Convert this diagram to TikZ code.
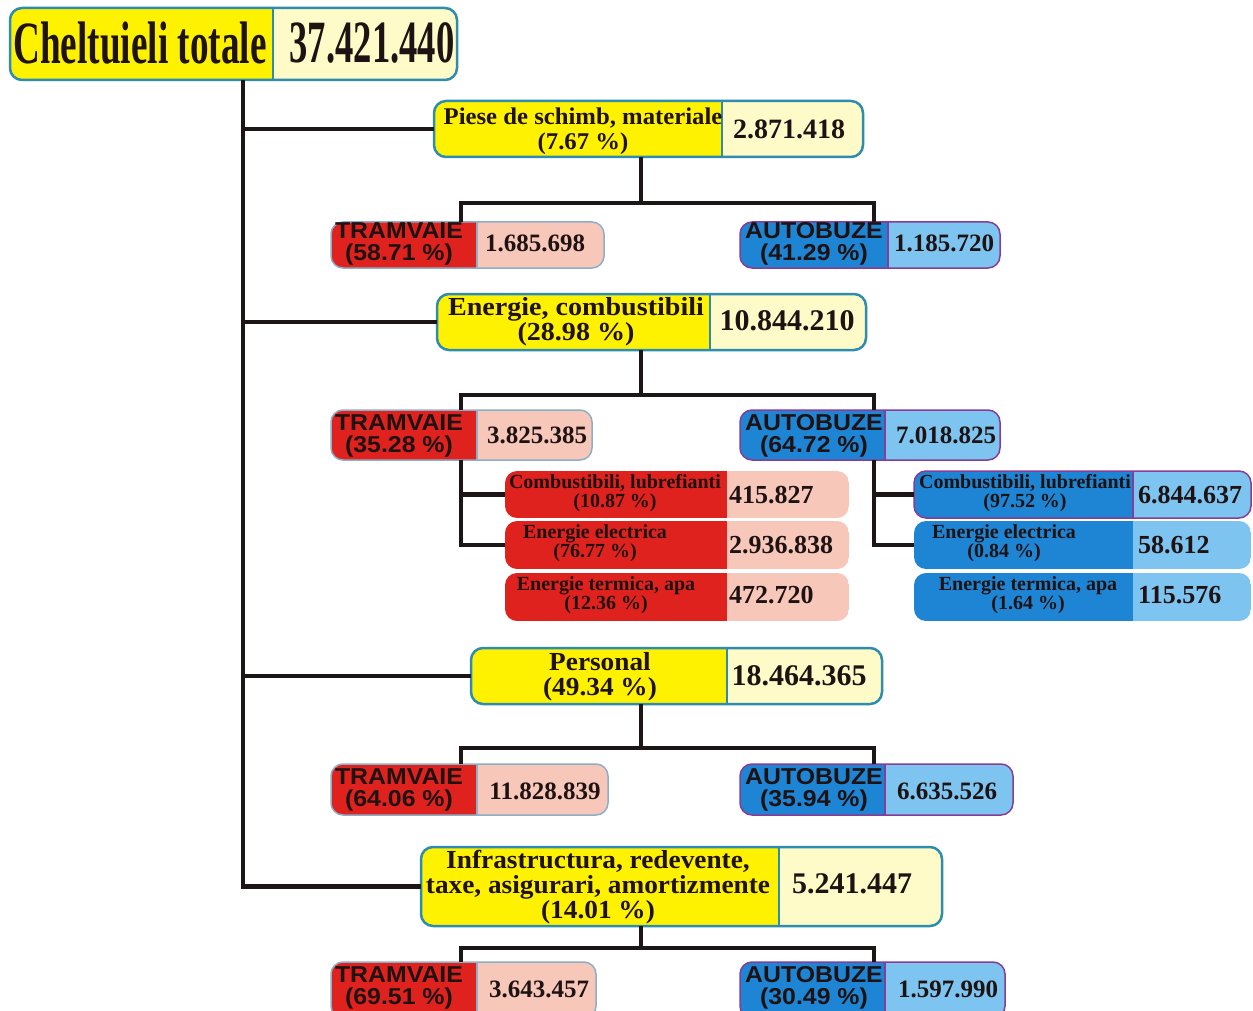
\documentclass[tikz,border=0pt]{standalone}
\usepackage{fontspec}
\setmainfont{Liberation Serif}
\newfontfamily\arialb{Liberation Sans}
\definecolor{ylw}{RGB}{255,242,0}
\definecolor{lylw}{RGB}{255,251,200}
\definecolor{tealb}{RGB}{45,140,175}
\definecolor{tred}{RGB}{224,34,30}
\definecolor{tpink}{RGB}{247,200,186}
\definecolor{bblue}{RGB}{30,132,212}
\definecolor{lblue}{RGB}{125,196,240}
\definecolor{purp}{RGB}{135,60,150}
\definecolor{tramb}{RGB}{140,175,200}
\definecolor{txt}{RGB}{30,18,18}
\definecolor{linec}{RGB}{28,22,22}
\tikzset{
  frame/.style={rounded corners=12, inner sep=0, outer sep=0},
  yb/.style={draw=tealb, line width=2.5},
  tb/.style={draw=tramb, line width=1.5},
  pb/.style={draw=purp, line width=1.5},
  nb/.style={draw=none},
  conn/.style={draw=linec, line width=4.5},
  ttl/.style={text=txt, inner sep=0, font=\fontsize{60}{60}\selectfont\bfseries},
  cat/.style={text=txt, align=center, inner sep=0, font=\fontsize{#1}{25}\selectfont\bfseries},
  catv/.style={text=txt, inner sep=0, font=\fontsize{#1}{#1}\selectfont\bfseries},
  ta/.style={text=txt, align=center, inner sep=0, xscale=1.08, font=\arialb\bfseries\fontsize{23}{22}\selectfont},
  tav/.style={text=txt, inner sep=0, font=\fontsize{25}{25}\selectfont\bfseries},
  sub/.style={text=txt, align=center, inner sep=0, font=\fontsize{20}{19.5}\selectfont\bfseries},
  subv/.style={text=txt, inner sep=0, anchor=west, font=\fontsize{26}{26}\selectfont\bfseries},
}
\newcommand\splitbox[9]{%
  \begin{scope}
    \clip[rounded corners=12] (#2,#3) rectangle (#5,#6);
    \fill[#7] (#2,#3) rectangle (#4,#6);
    \fill[#8] (#4,#3) rectangle (#5,#6);
  \end{scope}
  \draw[#9] (#4,#3) -- (#4,#6);
  \node[frame, #9, minimum width={#5-#2}, minimum height={#6-#3}] (#1) at ({(#2+#5)/2},{(#3+#6)/2}) {};
}
\begin{document}
\begin{tikzpicture}[x=1pt, y=-1pt]
\useasboundingbox (0,0) rectangle (1253,1011);
\clip (0,0) rectangle (1253,1011);
\fill[white] (0,0) rectangle (1253,1011);

% title
\splitbox{title}{10}{8}{273}{457}{80}{ylw}{lylw}{yb}
\node[ttl, xscale=0.62] (titleL) at (140,43) {Cheltuieli totale};
\node[ttl, xscale=0.61] (titleV) at (372,43) {37.421.440};

% piese
\splitbox{piese}{434}{101}{722}{863}{157}{ylw}{lylw}{yb}
\node[cat=24, xscale=1.03] (pieseL) at (583,131) {Piese de schimb, materiale\\(7.67 \%)};
\node[catv=28] (pieseV) at (789,129) {2.871.418};

\splitbox{tram1}{331}{222}{477}{604}{268}{tred}{tpink}{tb}
\node[ta] (tram1L) at (399,244) {TRAMVAIE\\(58.71 \%)};
\node[tav] (tram1V) at (535,243) {1.685.698};
\splitbox{auto1}{740}{222}{888}{1000}{268}{bblue}{lblue}{pb}
\node[ta] (auto1L) at (814,244) {AUTOBUZE\\(41.29 \%)};
\node[tav] (auto1V) at (944,243) {1.185.720};

% energie
\splitbox{energ}{437}{294}{710}{866}{350}{ylw}{lylw}{yb}
\node[cat=26, xscale=1.08] (energL) at (576,322) {Energie, combustibili\\(28.98 \%)};
\node[catv=30] (energV) at (787,321) {10.844.210};

\splitbox{tram2}{331}{410}{477}{592}{460}{tred}{tpink}{tb}
\node[ta] (tram2L) at (399,436) {TRAMVAIE\\(35.28 \%)};
\node[tav] (tram2V) at (537,435) {3.825.385};
\splitbox{auto2}{740}{410}{885}{1000}{460}{bblue}{lblue}{pb}
\node[ta] (auto2L) at (814,436) {AUTOBUZE\\(64.72 \%)};
\node[tav] (auto2V) at (946,435) {7.018.825};

\splitbox{tc}{505}{471}{727}{849}{518}{tred}{tpink}{nb}
\node[sub] (tcL) at (615,493) {Combustibili, lubrefianti\\(10.87 \%)};
\node[subv] (tcV) at (729,495) {415.827};
\splitbox{tee}{505}{521}{727}{849}{569}{tred}{tpink}{nb}
\node[sub] (teeL) at (595,543) {Energie electrica\\(76.77 \%)};
\node[subv] (teeV) at (729,545) {2.936.838};
\splitbox{tt}{505}{573}{727}{849}{621}{tred}{tpink}{nb}
\node[sub] (ttL) at (606,595) {Energie termica, apa\\(12.36 \%)};
\node[subv] (ttV) at (729,595) {472.720};

\splitbox{bc}{914}{471}{1133}{1251}{518}{bblue}{lblue}{pb}
\node[sub] (bcL) at (1025,493) {Combustibili, lubrefianti\\(97.52 \%)};
\node[subv] (bcV) at (1138,495) {6.844.637};
\splitbox{be}{914}{521}{1133}{1251}{569}{bblue}{lblue}{nb}
\node[sub] (beL) at (1004,543) {Energie electrica\\(0.84 \%)};
\node[subv] (beV) at (1138,545) {58.612};
\splitbox{bt}{914}{573}{1133}{1251}{621}{bblue}{lblue}{nb}
\node[sub] (btL) at (1028,595) {Energie termica, apa\\(1.64 \%)};
\node[subv] (btV) at (1138,595) {115.576};

% personal
\splitbox{pers}{471}{648}{727}{882}{704}{ylw}{lylw}{yb}
\node[cat=26, xscale=1.05] (persL) at (600,677) {Personal\\(49.34 \%)};
\node[catv=30] (persV) at (799,676) {18.464.365};

\splitbox{tram3}{331}{764}{477}{608}{815}{tred}{tpink}{tb}
\node[ta] (tram3L) at (399,790) {TRAMVAIE\\(64.06 \%)};
\node[tav] (tram3V) at (545,791) {11.828.839};
\splitbox{auto3}{740}{764}{885}{1013}{815}{bblue}{lblue}{pb}
\node[ta] (auto3L) at (814,790) {AUTOBUZE\\(35.94 \%)};
\node[tav] (auto3V) at (947,791) {6.635.526};

% infra
\splitbox{infra}{421}{847}{779}{942}{926}{ylw}{lylw}{yb}
\node[cat=26, xscale=1.05] (infraL) at (598,887) {Infrastructura, redevente,\\taxe, asigurari, amortizmente\\(14.01 \%)};
\node[catv=30] (infraV) at (852,884) {5.241.447};

\splitbox{tram4}{331}{962}{477}{596}{1018}{tred}{tpink}{tb}
\node[ta] (tram4L) at (399,988) {TRAMVAIE\\(69.51 \%)};
\node[tav] (tram4V) at (539,989) {3.643.457};
\splitbox{auto4}{740}{962}{885}{1005}{1018}{bblue}{lblue}{pb}
\node[ta] (auto4L) at (814,988) {AUTOBUZE\\(30.49 \%)};
\node[tav] (auto4V) at (948,989) {1.597.990};

% connectors
\coordinate (trunk) at (243,0);
\coordinate (drop) at (641,0);
\coordinate (tx) at (461,0);
\coordinate (ax) at (874,0);
\coordinate (bus1) at (641,203);
\coordinate (bus2) at (641,395);
\coordinate (bus3) at (641,748);
\coordinate (bus4) at (641,948);

\draw[conn] (title.south -| trunk) |- (infra.west);
\draw[conn] (trunk |- piese.west) -- (piese.west);
\draw[conn] (trunk |- energ.west) -- (energ.west);
\draw[conn] (trunk |- pers.west) -- (pers.west);

\draw[conn] (piese.south -| drop) -- (bus1);
\draw[conn] (tram1.north -| tx) |- (bus1) -| (auto1.north -| ax);
\draw[conn] (energ.south -| drop) -- (bus2);
\draw[conn] (tram2.north -| tx) |- (bus2) -| (auto2.north -| ax);
\draw[conn] (pers.south -| drop) -- (bus3);
\draw[conn] (tram3.north -| tx) |- (bus3) -| (auto3.north -| ax);
\draw[conn] (infra.south -| drop) -- (bus4);
\draw[conn] (tram4.north -| tx) |- (bus4) -| (auto4.north -| ax);

\draw[conn] (tram2.south -| tx) |- (tee.west);
\draw[conn] (tx |- tc.west) -- (tc.west);
\draw[conn] (auto2.south -| ax) |- (be.west);
\draw[conn] (ax |- bc.west) -- (bc.west);
\end{tikzpicture}
\end{document}
